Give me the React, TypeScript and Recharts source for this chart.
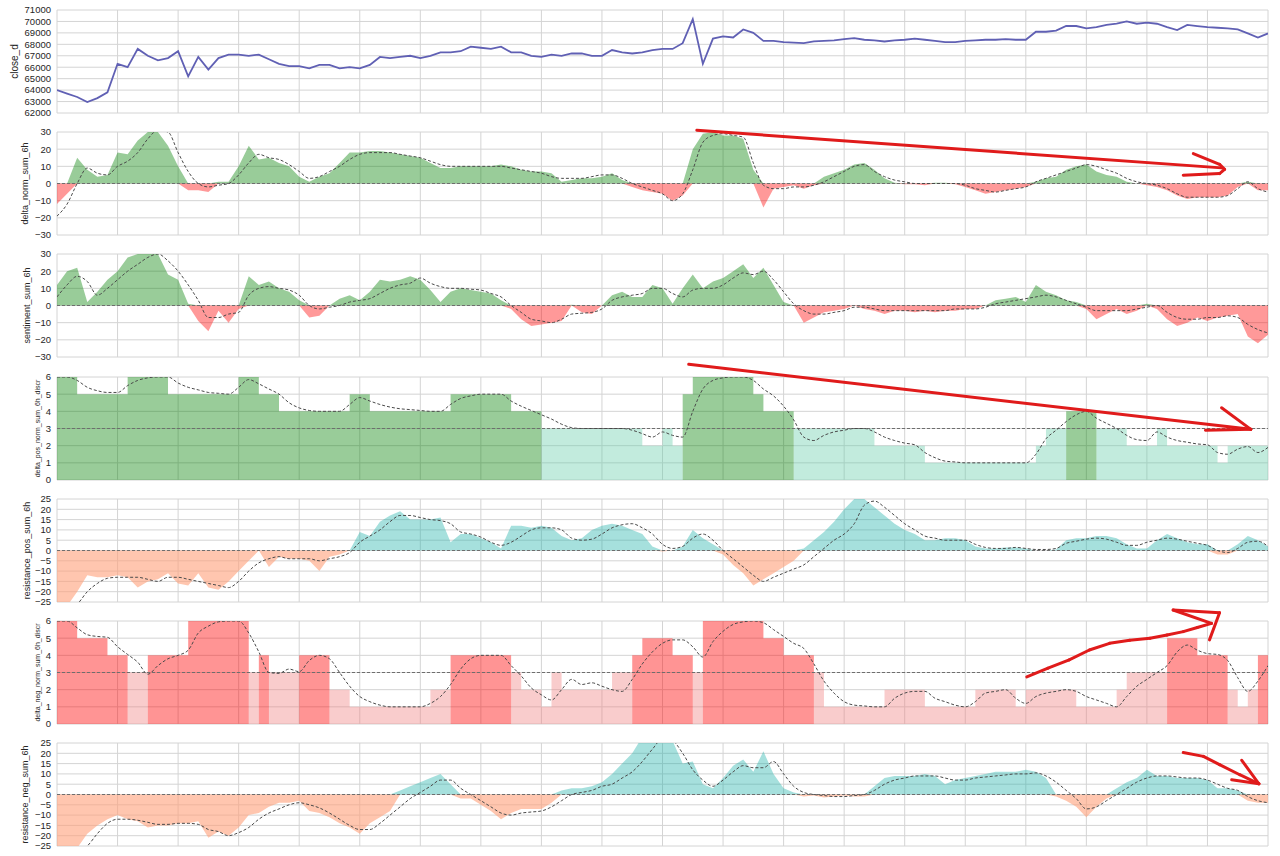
import React from 'react';
import { ComposedChart, Line, Area, XAxis, YAxis, CartesianGrid, ReferenceLine } from 'recharts';

// ---------- axes ----------
const X_GRID = [0, 6, 12, 18, 24, 30, 36, 42, 48, 54, 60, 66, 72, 78, 84, 90, 96, 102, 108, 114, 120];
const CLOSE_TICKS = [62000, 63000, 64000, 65000, 66000, 67000, 68000, 69000, 70000, 71000];
const SUM30_TICKS = [-30, -20, -10, 0, 10, 20, 30];
const DISCR_TICKS = [0, 1, 2, 3, 4, 5, 6];
const RES_TICKS = [-25, -20, -15, -10, -5, 0, 5, 10, 15, 20, 25];

const Y_LABELS = [
  'close_d',
  'delta_norm_sum_6h',
  'sentiment_sum_6h',
  'delta_pos_norm_sum_6h_discr',
  'resistance_pos_sum_6h',
  'delta_neg_norm_sum_6h_discr',
  'resistance_neg_sum_6h',
];

// ---------- series (121 samples each) ----------
const CLOSE_D = [
  64000, 63700, 63400, 62950, 63300, 63800, 66300, 66000, 67600, 67000,
  66600, 66800, 67400, 65200, 66900, 65800, 66800, 67100, 67100, 67000,
  67100, 66700, 66300, 66100, 66100, 65900, 66200, 66200, 65900, 66000,
  65900, 66200, 66900, 66800, 66900, 67000, 66800, 67000, 67300, 67300,
  67400, 67800, 67700, 67600, 67800, 67300, 67300, 67000, 66900, 67100,
  67000, 67200, 67200, 67000, 67000, 67500, 67300, 67200, 67300, 67500,
  67600, 67600, 68100, 70200, 66300, 68500, 68700, 68600, 69300, 69000,
  68300, 68300, 68200, 68150, 68100, 68250, 68300, 68350, 68450, 68550,
  68400, 68350, 68250, 68350, 68400, 68500, 68400, 68300, 68200, 68200,
  68300, 68350, 68400, 68400, 68450, 68400, 68400, 69100, 69100, 69200,
  69600, 69600, 69400, 69500, 69700, 69800, 70000, 69800, 69900, 69800,
  69500, 69250, 69700, 69600, 69500, 69450, 69400, 69300, 68950, 68600,
  68950,
];

const DELTA_NORM = [
  -12, -6, 15, 8, 4, 5, 18, 17, 25, 30,
  30, 22, 10, -4, -4, -5, 1, 1, 10, 22,
  14, 15, 12, 10, 4, 1, 4, 6, 12, 18,
  18, 19, 19, 18, 17, 16, 15, 12, 9, 9,
  10, 10, 10, 10, 11, 10, 8, 7, 7, 6,
  1, 2, 3, 3, 4, 6, 2, -2, -4, -5,
  -6, -10, -7, 20, 29, 30, 28, 28, 26, 8,
  -14, -3, -2, -1, -3, -1, 4, 6, 8, 11,
  12, 8, 3, 0.5, -0.5, -0.5, -1, 0.5, 0.5, -0.5,
  -2, -4, -6, -5, -4, -3, -2, 1, 3, 4,
  8, 10, 11, 7, 5, 4, 1, 0, -1, -2,
  -4, -7, -9, -8, -8, -8, -7, -2, 1, -4,
  -4,
];
const DELTA_NORM_MA = [
  -19, -12, 0, 9, 6, 5, 10, 13, 18, 26,
  31, 30, 18, 7, 0, -2, -1, 0, 5, 12,
  17, 15, 14, 11, 7, 3, 4, 7, 10, 14,
  17, 18, 18, 18, 17, 16, 15, 13, 11, 10,
  10, 10, 10, 10, 10, 9, 8, 7, 6, 4,
  3, 3, 3, 4, 5, 5, 3, 0, -2, -4,
  -6, -10, -6, 8, 24, 28, 29, 28, 27, 12,
  -1, -3, -3, -2, -2, -1, 1, 4, 7, 10,
  11, 7, 4, 2, 1, 0, 0, 0, 0, 0,
  -1, -3, -4, -5, -4, -3, -2, 1, 3, 5,
  7, 9, 11, 10, 8, 6, 3, 1, 0, -1,
  -3, -6, -8, -8, -8, -8, -7, -3, 1, -3,
  -5,
];

const SENTIMENT = [
  12, 20, 22, 2, 8, 15, 20, 28, 30, 30,
  30, 18, 15, 1, -9, -15, -3, -10, -2, 17,
  12, 14, 10, 8, 3, -7, -6, 0, 4, 6,
  3, 8, 15, 14, 15, 17, 15, 9, 2, 8,
  10, 9, 8, 7, 3, -2, -8, -12, -11, -10,
  -9, 0.5, -4, -5, 0, 6, 8, 5, 5, 12,
  10, 1, 10, 18, 10, 14, 16, 20, 24, 16,
  22, 12, 2, 0, -10, -7, -4, -3, -2, 0,
  -2, -3, -5, -3, -3, -4, -3, -4, -3, -3,
  -2, -2, 0, 3, 4, 5, 2, 12, 8, 6,
  3, 2, -2, -8, -5, -2, -5, -3, 1, -2,
  -8, -12, -10, -7, -9, -7, -6, -5, -18, -22,
  -17,
];
const SENTIMENT_MA = [
  5, 12, 17, 14, 6, 10, 15, 20, 24, 28,
  30, 26, 20, 12, 3, -7, -7, -5, -4, 6,
  10, 11, 10, 9, 6, 0, -2, -1, 0, 2,
  3, 4, 7, 10, 12, 13, 16, 13, 11, 10,
  10, 9.5, 9, 7, 5, 0, -4, -8, -9, -10,
  -8, -5, -4.5, -4, -2, 3, 5, 6, 7, 10,
  10, 7, 5, 9, 10, 10, 12, 16, 19, 18,
  20, 15, 8, 1, -3, -5, -5, -4, -3, -1,
  -1, -2, -3, -3, -3, -3, -3, -3, -3, -2,
  -2, -2, -1, 1, 2, 3, 4, 5, 6, 5,
  3, 1, -1, -3, -3, -3, -3, -2, -1, 0,
  -4, -7, -8, -8, -7, -7, -6, -7, -11, -14,
  -16,
];

const DELTA_POS_DISCR = [
  6, 6, 5, 5, 5, 5, 5, 6, 6, 6,
  6, 5, 5, 5, 5, 5, 5, 5, 6, 6,
  5, 5, 4, 4, 4, 4, 4, 4, 4, 5,
  5, 4, 4, 4, 4, 4, 4, 4, 4, 5,
  5, 5, 5, 5, 5, 4, 4, 4, 3, 3,
  3, 3, 3, 3, 3, 3, 3, 3, 2, 2,
  3, 2, 5, 6, 6, 6, 6, 6, 6, 5,
  4, 4, 4, 3, 3, 3, 3, 3, 3, 3,
  3, 2, 2, 2, 2, 2, 1, 1, 1, 1,
  1, 1, 1, 1, 1, 1, 1, 2, 3, 3,
  4, 4, 4, 3, 3, 3, 2, 2, 2, 3,
  2, 2, 2, 2, 2, 1, 2, 2, 2, 2,
  2,
];
const DELTA_POS_DISCR_MA = [
  6, 6, 5.8, 5.4, 5.2, 5.1, 5.1, 5.5, 5.8, 5.95,
  6, 6, 5.65, 5.4, 5.25, 5.1, 5.05, 5.0, 5.4, 5.85,
  5.6, 5.3, 5.0, 4.5, 4.2, 4.05, 4.0, 4.0, 4.0, 4.4,
  4.8, 4.6, 4.4, 4.25, 4.15, 4.1, 4.05, 4.0, 4.0, 4.4,
  4.75, 4.9, 5.0, 5.0, 5.0, 4.6, 4.3, 4.05, 3.8, 3.55,
  3.25, 3.05, 3.0, 3.0, 3.0, 3.0, 3.0, 2.9, 2.7, 2.5,
  2.8, 2.6, 2.5, 4.0, 5.3, 5.8, 5.95, 6, 6, 5.8,
  5.3, 4.9, 4.3, 3.5, 2.5, 2.3, 2.6, 2.8, 2.9, 3.0,
  3.0, 2.8, 2.5, 2.3, 2.15, 2.05, 1.6, 1.3, 1.1, 1.05,
  1, 1, 1, 1, 1, 1, 1, 1.5, 2.4, 2.9,
  3.4, 3.8, 4.0, 3.6, 3.3, 3.0, 2.6, 2.35, 2.3, 2.8,
  2.5, 2.3, 2.2, 2.1, 2.05, 1.6, 1.5, 1.8, 1.95, 1.6,
  1.9,
];

const RES_POS = [
  -28, -27, -20, -12, -13, -13, -12, -13, -18, -15,
  -14, -11, -16, -17, -11, -18, -19, -15, -10, -5,
  0, -8, -3, -4, -4, -5, -10, -3, -2, 0,
  9, 7, 14, 17, 19, 15, 15, 15, 16, 4,
  8, 8, 6, 4, 1, 12, 12, 11, 12, 11,
  7, 5, 6, 10, 12, 13, 12, 10, 8, 2,
  -0.5, 0, 2, 10, 6, 3, -2, -7, -11, -17,
  -14, -11, -8, -5, 1, 5, 9, 14, 20, 25,
  25, 21, 17, 13, 10, 8, 5, 5, 6, 6,
  5, 2, 1, 1, 1.5, 1.5, 1, 0, 0, 0.5,
  5, 6, 6, 7, 7, 6, 3, 1, 1, 5,
  8, 6, 4, 3, 3, -2, -2, 3, 7, 5,
  2,
];
const RES_POS_MA = [
  -30, -28, -26, -20, -16, -13.5, -13, -13, -13, -14,
  -15, -13, -13, -14, -15, -16, -17, -18, -15, -10,
  -6, -4, -3, -4, -4, -4, -5, -4, -3, -1,
  4, 7, 10, 14, 17, 17, 16, 15, 14.5, 13,
  9, 8, 6.5, 4, 2.5, 4, 7, 10, 11, 11,
  10, 6, 5, 5.5, 8, 11, 12.5, 13, 11, 8,
  3, 1, 2, 6, 8, 5, 0, -4, -8, -12,
  -15, -13, -11, -9, -7, -3, 1, 5, 8, 13,
  22, 24, 21, 17, 13, 10, 7, 6, 5, 5,
  5, 3, 1.5, 1, 1, 1.5, 1, 0.5, 0.5, 1,
  3.5, 4.5, 5.5, 6, 5.5, 4, 2.5, 2.5, 4, 5,
  6, 5.5, 4.5, 3.5, 2.5, 0, -1, 1, 4, 4.5,
  2,
];

const DELTA_NEG_DISCR = [
  6, 6, 5, 5, 5, 4, 4, 3, 3, 4,
  4, 4, 4, 6, 6, 6, 6, 6, 6, 3,
  4, 3, 3, 3, 4, 4, 4, 2, 2, 1,
  1, 1, 1, 1, 1, 1, 1, 2, 2, 4,
  4, 4, 4, 4, 4, 3, 2, 2, 1, 3,
  2, 2, 2, 2, 2, 3, 3, 4, 5, 5,
  5, 4, 4, 3, 6, 6, 6, 6, 6, 6,
  5, 5, 4, 4, 4, 3, 1, 1, 1, 1,
  1, 1, 2, 2, 2, 2, 1, 1, 1, 1,
  1, 2, 2, 2, 2, 1, 2, 2, 2, 2,
  2, 1, 1, 1, 1, 2, 3, 3, 3, 3,
  5, 5, 5, 4, 4, 4, 2, 1, 2, 4,
  4,
];
const DELTA_NEG_DISCR_MA = [
  6, 6, 5.6, 5.2, 5.1, 5.05, 4.5, 4.05, 3.6, 2.9,
  3.4, 3.8, 4.0, 4.3, 5.3, 5.7, 5.95, 6, 6, 5.3,
  4.2, 3.0, 2.95, 3.2, 3.05, 3.7, 4.0, 3.8, 3.0, 2.2,
  1.6, 1.3, 1.1, 1.0, 1.0, 1.0, 1.0, 1.2, 1.6, 2.3,
  3.2, 3.8, 4.0, 4.0, 4.0, 3.4, 2.8, 2.1, 1.7, 1.4,
  2.0, 2.6, 2.3, 2.4, 2.2, 2.0, 1.9, 2.6, 3.5, 4.2,
  4.7, 4.9, 4.9, 4.5, 3.9, 4.8, 5.4, 5.8, 5.95, 6,
  5.9, 5.5, 5.1, 4.7, 4.4, 3.5, 2.5, 1.8, 1.3, 1.1,
  1.05, 1.0, 1.0, 1.5, 1.8, 1.9, 1.9, 1.5, 1.3, 1.1,
  1.0, 1.3, 1.8, 1.9, 2.0, 1.5, 1.2, 1.6, 1.8, 1.9,
  2.0, 1.9, 1.6, 1.4, 1.2, 1.0, 1.6, 2.2, 2.6, 3.0,
  3.4, 4.2, 4.6, 4.3, 4.1, 4.05, 3.7, 2.7, 1.9, 2.5,
  3.4,
];

const RES_NEG = [
  -28, -28, -26, -19, -15, -12, -10, -12, -13, -16,
  -15, -15, -14, -14, -13, -21, -18, -20, -16, -10,
  -9, -6, -4, -4, -3, -8, -9, -11, -14, -16,
  -19, -14, -11, -8, 2, 4, 6, 8, 10, 5,
  -2, -2, -5, -8, -12, -9, -7, -7, -7, -4,
  2, 3, 3, 4, 6, 10, 15, 20, 28, 28,
  28, 26, 15, 16, 5, 3, 8, 14, 17, 11,
  21, 10, 3, 1, -1, -0.5, -1.5, -1, -0.5, -1,
  -1, 4, 8, 9, 9, 9, 10, 9, 5, 7,
  8, 9, 10, 11, 11, 11, 12, 11, 8, -1,
  -3, -6, -11, -6, -2, 3, 6, 8, 12, 9,
  9, 8, 8, 8, 7, 3, 3, 2, -3, -4,
  -4,
];
const RES_NEG_MA = [
  -32, -30, -28, -25, -19, -14, -12, -12, -12.5, -13.5,
  -14.5, -14.5, -14, -14, -14.5, -17, -18, -20, -18.5, -16,
  -12, -9, -7, -5, -4, -5, -6.5, -9, -12, -15,
  -17, -17, -14, -10, -6, -2, 1, 4, 7, 7,
  3, 0, -3, -6, -9, -10, -9, -8.5, -8, -6,
  -3, 0, 1, 2, 4, 5, 8, 11, 16, 22,
  27, 26, 20, 12, 7, 4, 7, 11, 14, 13,
  13, 16, 10, 4, 1, 0, -0.5, -1, -1, -0.5,
  0, 2, 5, 7, 8, 9, 9, 9, 8, 7,
  7, 8, 8.5, 9, 9.5, 10, 10, 10.5, 9, 6,
  2, -2, -7, -6, -3, 0, 3, 6, 8, 9,
  9, 8.5, 8, 8, 7, 5, 3, 2, -1, -3,
  -4,
];

// ---------- hand-drawn red annotations (data coordinates of each panel) ----------
const ARROW_DELTA_NORM = [[63.4, 31.0], [115.4, 9.1]];
const ARROW_DELTA_NORM_HEAD = [[112.6, 17.4], [115.2, 11.2], [115.7, 8.2], [115.2, 5.8], [111.6, 4.8]];
const ARROW_DPOS = [[62.6, 6.74], [118.3, 2.95]];
const ARROW_DPOS_HEAD_A = [[115.4, 4.21], [118.3, 2.95]];
const ARROW_DPOS_HEAD_B = [[113.8, 2.9], [118.3, 2.95]];
const ARROW_DNEG = [
  [96.1, 2.74], [98.2, 3.25], [100.3, 3.73], [102.3, 4.31], [104.3, 4.7], [106.3, 4.88],
  [108.3, 4.99], [110.0, 5.18], [111.6, 5.38], [113.0, 5.62], [114.4, 5.86],
  [110.6, 6.64], [115.2, 6.48], [114.2, 4.9],
];
const ARROW_RNEG = [[111.6, 20.4], [113.6, 18.5], [115.2, 14.5], [117.2, 9.6], [119.1, 5.2]];
const ARROW_RNEG_HEAD_A = [[117.4, 16.6], [119.1, 5.2]];
const ARROW_RNEG_HEAD_B = [[116.4, 7.2], [119.1, 5.2]];

// ---------- tables built from the arrays ----------
const IDX = CLOSE_D.map((_, i) => i);
const closeRows = IDX.map((i) => ({ x: i, v: CLOSE_D[i] }));
const signedRows = (v: number[], ma: number[]) =>
  IDX.map((i) => ({ x: i, pos: v[i] > 0 ? v[i] : 0, neg: v[i] < 0 ? v[i] : 0, ma: ma[i] }));
const discrRows = (v: number[], ma: number[]) =>
  IDX.map((i) => ({ x: i, hi: v[i] > 3 ? v[i] : 0, lo: v[i] <= 3 ? v[i] : 0, ma: ma[i] }));

const FONT = '"Liberation Sans", Arial, Helvetica, sans-serif';
const fmt = (v: number) => (v < 0 ? '\u2212' + Math.abs(v) : String(v));

function makeLabel(text: string, cx: number, fs: number) {
  return (props: any) => {
    const vb = props && props.viewBox ? props.viewBox : null;
    const cy = vb && typeof vb.y === 'number' ? vb.y + vb.height / 2 : 71.5;
    return (
      <text
        x={cx}
        y={cy}
        transform={`rotate(-90 ${cx} ${cy})`}
        textAnchor="middle"
        dominantBaseline="central"
        fontSize={fs}
        fill="#262626"
        fontFamily={FONT}
      >
        {text}
      </text>
    );
  };
}

// vertical grid lines at the x grid values, placed through the x axis scale
const vGrid = (p: any) => {
  const sc = p && p.xAxis && typeof p.xAxis.scale === 'function' ? p.xAxis.scale : null;
  if (sc) return X_GRID.map((t) => sc(t));
  const off = p.offset;
  return X_GRID.map((t) => off.left + (t / 120) * off.width);
};

function arrow(pts: number[][], key: string) {
  const out: React.ReactElement[] = [];
  for (let k = 0; k < pts.length - 1; k++) {
    out.push(
      <ReferenceLine
        key={key + k}
        segment={[
          { x: pts[k][0], y: pts[k][1] },
          { x: pts[k + 1][0], y: pts[k + 1][1] },
        ]}
        stroke="#e01b1b"
        strokeWidth={3}
        strokeLinecap="round"
        ifOverflow="visible"
      />
    );
  }
  return out;
}

const MA_STYLE = { stroke: '#4a4a4a', strokeWidth: 1, strokeDasharray: '3 2' };

type PanelProps = {
  top: number;
  data: any[];
  domain: [number, number];
  ticks: number[];
  label: string;
  labelX: number;
  labelSize: number;
  children?: React.ReactNode;
};

function Panel({ top, data, domain, ticks, label, labelX, labelSize, children }: PanelProps) {
  return (
    <div style={{ position: 'absolute', left: 0, top: top - 20, width: 1280, height: 128 }}>
      <ComposedChart width={1280} height={128} data={data} margin={{ top: 20, right: 12, bottom: 5, left: 0 }}>
        <CartesianGrid stroke="#d4d4d4" strokeWidth={1} verticalCoordinatesGenerator={vGrid} />
        <XAxis
          dataKey="x"
          type="number"
          domain={[0, 120]}
          ticks={X_GRID}
          tick={false}
          tickLine={false}
          axisLine={false}
          height={0}
          allowDataOverflow
        />
        <YAxis
          type="number"
          domain={domain}
          ticks={ticks}
          interval={0}
          allowDataOverflow
          width={57}
          tickLine={false}
          axisLine={false}
          tickSize={0}
          tickMargin={6}
          tick={{ fontSize: 9.5, fill: '#262626', fontFamily: FONT }}
          tickFormatter={fmt}
          label={makeLabel(label, labelX, labelSize)}
        />
        {children}
      </ComposedChart>
    </div>
  );
}

function SignedPanel(props: {
  top: number; v: number[]; ma: number[]; domain: [number, number]; ticks: number[];
  label: string; labelX: number; labelSize: number; posColor: string; negColor: string; posOp: number; negOp: number;
  extra?: React.ReactNode;
}) {
  const data = signedRows(props.v, props.ma);
  return (
    <Panel top={props.top} data={data} domain={props.domain} ticks={props.ticks} label={props.label} labelX={props.labelX} labelSize={props.labelSize}>
      <Area dataKey="pos" type="linear" baseValue={0} stroke="none" fill={props.posColor} fillOpacity={props.posOp} isAnimationActive={false} />
      <Area dataKey="neg" type="linear" baseValue={0} stroke="none" fill={props.negColor} fillOpacity={props.negOp} isAnimationActive={false} />
      <ReferenceLine y={0} stroke="#6e6e6e" strokeWidth={1.1} strokeDasharray="3 2" />
      <Line dataKey="ma" type="monotone" dot={false} activeDot={false} {...MA_STYLE} isAnimationActive={false} />
      {props.extra}
    </Panel>
  );
}

function DiscrPanel(props: {
  top: number; v: number[]; ma: number[]; label: string; labelX: number;
  hiColor: string; loColor: string; hiOp: number; loOp: number; extra?: React.ReactNode;
}) {
  const data = discrRows(props.v, props.ma);
  return (
    <Panel top={props.top} data={data} domain={[0, 6]} ticks={DISCR_TICKS} label={props.label} labelX={props.labelX} labelSize={7}>
      <Area dataKey="lo" type="stepAfter" baseValue={0} stroke="none" fill={props.loColor} fillOpacity={props.loOp} isAnimationActive={false} />
      <Area dataKey="hi" type="stepAfter" baseValue={0} stroke="none" fill={props.hiColor} fillOpacity={props.hiOp} isAnimationActive={false} />
      <ReferenceLine y={3} stroke="#6e6e6e" strokeWidth={1.1} strokeDasharray="3 2" />
      <Line dataKey="ma" type="monotone" dot={false} activeDot={false} {...MA_STYLE} isAnimationActive={false} />
      {props.extra}
    </Panel>
  );
}

export default function App() {
  return (
    <div style={{ position: 'absolute', left: 0, top: 0, width: 1280, height: 856, background: '#ffffff', overflow: 'hidden' }}>
      <Panel top={10} data={closeRows} domain={[62000, 71000]} ticks={CLOSE_TICKS} label={Y_LABELS[0]} labelX={14} labelSize={10}>
        <Line dataKey="v" type="linear" dot={false} activeDot={false} stroke="#6060b4" strokeWidth={1.8} isAnimationActive={false} />
      </Panel>

      <SignedPanel
        top={132} v={DELTA_NORM} ma={DELTA_NORM_MA} domain={[-30, 30]} ticks={SUM30_TICKS}
        label={Y_LABELS[1]} labelX={24.5} labelSize={9}
        posColor="#008000" negColor="#ff0000" posOp={0.4} negOp={0.4}
        extra={[...arrow(ARROW_DELTA_NORM, 'a'), ...arrow(ARROW_DELTA_NORM_HEAD, 'b')]}
      />

      <SignedPanel
        top={254} v={SENTIMENT} ma={SENTIMENT_MA} domain={[-30, 30]} ticks={SUM30_TICKS}
        label={Y_LABELS[2]} labelX={26.5} labelSize={9}
        posColor="#008000" negColor="#ff0000" posOp={0.4} negOp={0.4}
      />

      <DiscrPanel
        top={376.5} v={DELTA_POS_DISCR} ma={DELTA_POS_DISCR_MA} label={Y_LABELS[3]} labelX={37}
        hiColor="#008000" loColor="#66cdaa" hiOp={0.4} loOp={0.4}
        extra={[...arrow(ARROW_DPOS, 'c'), ...arrow(ARROW_DPOS_HEAD_A, 'd'), ...arrow(ARROW_DPOS_HEAD_B, 'e')]}
      />

      <SignedPanel
        top={499} v={RES_POS} ma={RES_POS_MA} domain={[-25, 25]} ticks={RES_TICKS}
        label={Y_LABELS[4]} labelX={26.5} labelSize={9}
        posColor="#20b2aa" negColor="#ffa07a" posOp={0.4} negOp={0.6}
      />

      <DiscrPanel
        top={621} v={DELTA_NEG_DISCR} ma={DELTA_NEG_DISCR_MA} label={Y_LABELS[5]} labelX={37.5}
        hiColor="#ff0000" loColor="#f08080" hiOp={0.42} loOp={0.4}
        extra={arrow(ARROW_DNEG, 'f')}
      />

      <SignedPanel
        top={743.3} v={RES_NEG} ma={RES_NEG_MA} domain={[-25, 25]} ticks={RES_TICKS}
        label={Y_LABELS[6]} labelX={25} labelSize={9}
        posColor="#20b2aa" negColor="#ffa07a" posOp={0.4} negOp={0.6}
        extra={[...arrow(ARROW_RNEG, 'g'), ...arrow(ARROW_RNEG_HEAD_A, 'h'), ...arrow(ARROW_RNEG_HEAD_B, 'i')]}
      />
    </div>
  );
}
